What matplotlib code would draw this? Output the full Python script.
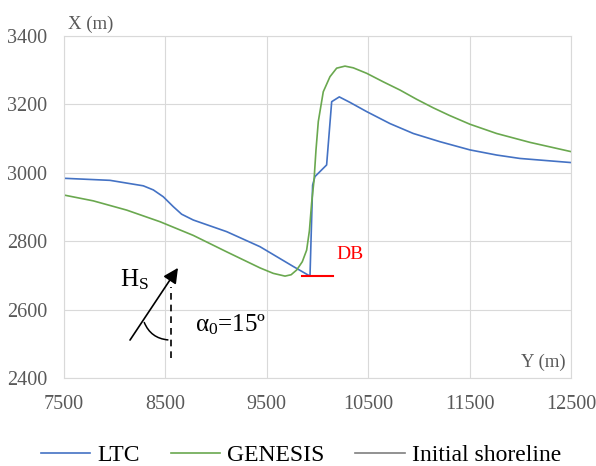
import matplotlib
matplotlib.use('Agg')
import matplotlib.pyplot as plt
from matplotlib.patches import FancyArrowPatch

# shoreline position X (m) along the coast Y (m)
ltc_y = [7500, 7954, 8282, 8381, 8479, 8578, 8660, 8775, 9104, 9433,
         9762, 9926, 9952, 9975, 10090, 10140, 10215, 10320, 10485,
         10715, 10945, 11208, 11504, 11767, 11997, 12500]
ltc_x = [2984, 2978, 2962, 2950, 2930, 2901, 2879, 2862, 2828, 2784,
         2726, 2698, 2964, 2989, 3023, 3208, 3222, 3206, 3179,
         3144, 3115, 3091, 3067, 3052, 3042, 3030]

genesis_y = [7500, 7789, 8118, 8447, 8775, 9104, 9433, 9564, 9680, 9740,
             9795, 9850, 9893, 9920, 9942, 9966, 9985, 10008, 10057,
             10123, 10189, 10271, 10353, 10485, 10649, 10814, 10978,
             11142, 11300, 11504, 11767, 12096, 12500]
genesis_x = [2935, 2918, 2891, 2857, 2817, 2769, 2722, 2706, 2698, 2702,
             2716, 2740, 2774, 2830, 2911, 2979, 3066, 3150, 3237,
             3281, 3306, 3312, 3307, 3291, 3266, 3242, 3215,
             3190, 3168, 3142, 3115, 3089, 3062]

db_y = [9844, 10150]
db_x = [2699, 2699]

x_ticks = [7500, 8500, 9500, 10500, 11500, 12500]
y_ticks = [2400, 2600, 2800, 3000, 3200, 3400]

BLUE = '#4472C4'
GREEN = '#6AA84F'
GRAY = '#595959'
GRID = '#D9D9D9'


def main():
    plt.rcParams['font.family'] = ['Liberation Serif', 'DejaVu Serif']
    plt.rcParams['mathtext.fontset'] = 'custom'
    plt.rcParams['mathtext.rm'] = 'Liberation Serif'
    plt.rcParams['mathtext.it'] = 'Liberation Serif:italic'

    fig = plt.figure(figsize=(5.96, 4.66), dpi=100)
    ax = fig.add_axes([0.1074, 0.1888, 0.8506, 0.7339])

    ax.plot(ltc_y, ltc_x, color=BLUE, lw=1.2, label='LTC')
    ax.plot(genesis_y, genesis_x, color=GREEN, lw=1.2, label='GENESIS')
    ax.plot([], [], color='#7F7F7F', lw=1.2, label='Initial shoreline')
    ax.plot(db_y, db_x, color='red', lw=1.5)
    ax.text(10182, 2762, 'DB', color='red', fontsize=14, va='center')

    ax.set_xlim(7500, 12500)
    ax.set_ylim(2400, 3400)
    ax.set_xticks(x_ticks)
    ax.set_yticks(y_ticks)
    ax.tick_params(length=0, labelsize=14.5, labelcolor=GRAY)
    ax.tick_params(axis='x', pad=12)
    ax.tick_params(axis='y', pad=12)
    ax.grid(True, color=GRID, lw=0.8)
    ax.set_axisbelow(True)
    for s in ax.spines.values():
        s.set_color(GRID)
        s.set_linewidth(0.8)

    ax.text(0.008, 1.035, 'X (m)', transform=ax.transAxes, fontsize=13.5,
            color=GRAY, va='center', ha='left')
    ax.text(0.99, 0.045, 'Y (m)', transform=ax.transAxes, fontsize=13.5,
            color=GRAY, va='center', ha='right')

    # wave direction sketch
    ax.annotate('', xy=(8624, 2722), xytext=(8151, 2511),
                arrowprops=dict(arrowstyle='-|>,head_length=0.9,head_width=0.45',
                                color='black', lw=1.2, shrinkA=0, shrinkB=0))
    ax.plot([8552, 8552], [2458, 2667], color='black', lw=1.2, ls=(0, (4, 3)))
    arc = FancyArrowPatch((8282, 2570), (8552, 2511), arrowstyle='-',
                          connectionstyle='arc3,rad=0.35', color='black', lw=1.1)
    ax.add_patch(arc)
    ax.text(8052, 2688, r'H$_\mathrm{S}$', fontsize=18, va='center', ha='left')
    ax.text(8790, 2555, r'$\mathrm{\alpha}_0$=15º', fontsize=18,
            va='center', ha='left')

    fig.legend(loc='center', bbox_to_anchor=(0.505, 11 / 466), ncol=3,
               frameon=False, fontsize=17, handlelength=2.1, columnspacing=1.3,
               handletextpad=0.3, borderaxespad=0, borderpad=0)

    fig.savefig('out.png', dpi=100)


if __name__ == '__main__':
    main()
